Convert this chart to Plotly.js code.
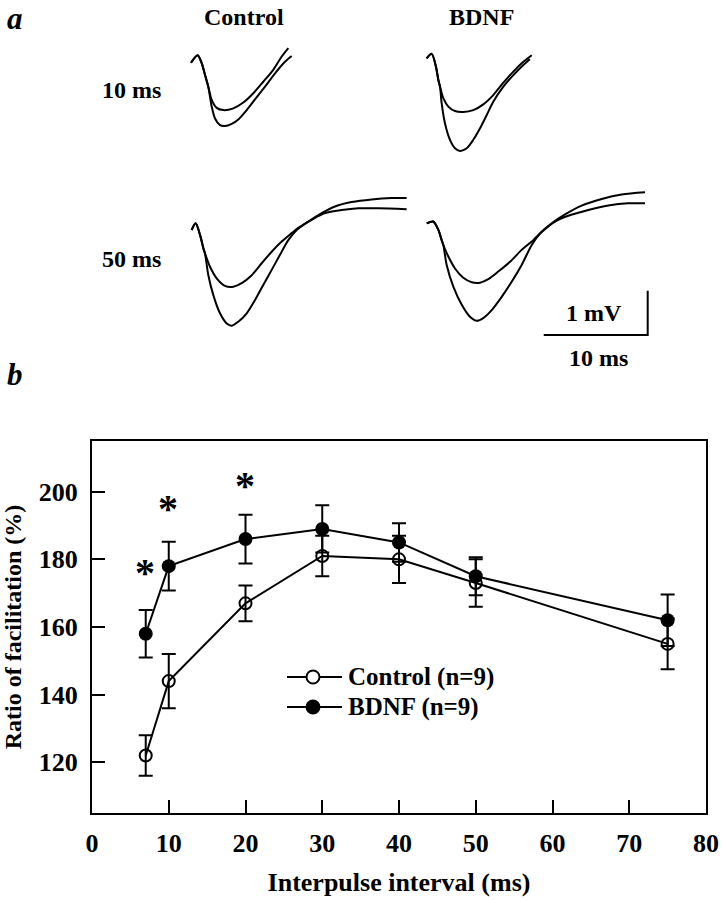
<!DOCTYPE html>
<html>
<head>
<meta charset="utf-8">
<script src="https://cdn.plot.ly/plotly-3.0.1.min.js"></script>
<style>html,body{margin:0;padding:0;background:#fff}#chart{width:722px;height:900px}</style>
</head>
<body>
<div id="chart"></div>
<script>
// ---------------- DATA ----------------
// Panel b: paired-pulse facilitation
const intervals = [7, 10, 20, 30, 40, 50, 75];
const control = [122, 144, 167, 181, 180, 173, 155];
const controlErr = [6, 8, 5.3, 6, 7, 7, 7.5];
const bdnf = [158, 178, 186, 189, 185, 175, 162];
const bdnfErr = [7, 7.2, 7.2, 7, 5.7, 5.6, 7.6];
const significant = [7, 10, 20];
const seriesNames = ['Control (n=9)', 'BDNF (n=9)'];
const xTicks = [0, 10, 20, 30, 40, 50, 60, 70, 80];
const yTicks = [120, 140, 160, 180, 200];

// Panel a: example traces (time in ms, voltage in mV)
const ctrl10_t1 = [0, 0.64, 1.03, 1.35, 1.66, 1.99, 2.47, 3.11, 4.07, 5.03, 5.99, 6.95, 7.91, 8.72, 9.36];
const ctrl10_v1 = [0, 0.17, -0.01, -0.28, -0.54, -0.84, -1.02, -1.07, -1.03, -0.90, -0.69, -0.43, -0.16, 0.14, 0.33];
const ctrl10_t2 = [0, 0.64, 1.03, 1.35, 1.66, 1.99, 2.31, 2.79, 3.27, 3.91, 4.55, 5.36, 6.15, 7.12, 8.08, 9.04, 9.68];
const ctrl10_v2 = [0, 0.17, -0.01, -0.28, -0.54, -0.99, -1.26, -1.41, -1.43, -1.38, -1.28, -1.07, -0.83, -0.54, -0.24, 0.02, 0.15];

const bdnf10_t1 = [0, 0.48, 0.89, 1.12, 1.28, 1.60, 2.08, 2.72, 3.52, 4.48, 5.44, 6.40, 7.37, 8.33, 9.29, 10.10];
const bdnf10_v1 = [0, 0.10, -0.19, -0.49, -0.64, -0.90, -1.09, -1.19, -1.21, -1.17, -1.04, -0.83, -0.55, -0.30, -0.08, 0.07];
const bdnf10_t2 = [0, 0.48, 0.89, 1.12, 1.28, 1.44, 1.76, 2.24, 2.72, 3.20, 3.85, 4.48, 5.13, 5.77, 6.40, 7.37, 8.33, 9.29, 9.93];
const bdnf10_v2 = [0, 0.10, -0.19, -0.49, -0.64, -1.02, -1.47, -1.84, -2.03, -2.09, -2.03, -1.84, -1.58, -1.28, -0.98, -0.64, -0.38, -0.15, -0.02];

const ctrl50_t1 = [0, 0.38, 0.80, 1.12, 1.28, 1.76, 2.40, 3.20, 4.00, 4.81, 5.77, 6.73, 7.69, 8.65, 9.62, 10.25, 11.54, 12.82, 14.42, 16.02, 17.94, 20.67];
const ctrl50_v1 = [0, 0.15, -0.11, -0.41, -0.53, -0.83, -1.09, -1.26, -1.28, -1.20, -1.02, -0.75, -0.49, -0.26, -0.07, 0.05, 0.23, 0.38, 0.45, 0.49, 0.49, 0.47];
const ctrl50_t2 = [0, 0.38, 0.80, 1.12, 1.28, 1.60, 2.08, 2.72, 3.37, 3.85, 4.48, 5.29, 6.09, 6.88, 7.69, 8.49, 9.29, 10.10, 11.21, 12.50, 13.78, 15.38, 17.31, 19.23, 20.67];
const ctrl50_v2 = [0, 0.15, -0.11, -0.41, -0.53, -1.02, -1.47, -1.88, -2.11, -2.16, -2.07, -1.88, -1.58, -1.24, -0.90, -0.56, -0.23, 0.00, 0.19, 0.38, 0.53, 0.63, 0.69, 0.72, 0.72];

const bdnf50_t1 = [0, 0.63, 1.12, 1.44, 1.60, 2.08, 2.72, 3.52, 4.33, 5.13, 5.92, 6.88, 8.01, 9.13, 10.25, 10.89, 12.34, 13.62, 15.54, 17.46, 19.38, 20.99];
const bdnf50_v1 = [0, 0.04, -0.15, -0.38, -0.49, -0.75, -1.02, -1.23, -1.33, -1.34, -1.26, -1.09, -0.87, -0.60, -0.38, -0.23, 0.04, 0.17, 0.30, 0.40, 0.45, 0.45];
const bdnf50_t2 = [0, 0.63, 1.12, 1.44, 1.60, 1.92, 2.56, 3.37, 4.16, 4.81, 5.44, 6.25, 7.21, 8.17, 9.13, 10.10, 10.89, 12.02, 13.30, 14.90, 16.83, 18.75, 20.99];
const bdnf50_v2 = [0, 0.04, -0.15, -0.38, -0.49, -0.94, -1.43, -1.84, -2.11, -2.20, -2.14, -1.96, -1.66, -1.32, -0.94, -0.49, -0.23, 0.00, 0.20, 0.40, 0.55, 0.65, 0.70];

const scaleMs = 10;
const scaleMv = 1;
const panelLabels = ['Control', 'BDNF'];
const rowLabels = ['10 ms', '50 ms'];

// ---------------- LAYOUT HELPERS ----------------
const W = 722, H = 900;
const PX_PER_MS = 10.4, PX_PER_MV = 44.3;
const FONT = 'Liberation Serif, Times New Roman, serif';
const bold = (size) => ({family: FONT, size: size, color: '#000', weight: 'bold'});
const px = (x) => x / W;
const py = (y) => 1 - y / H;

function panelAxes(box, origin) {
  const [x0, x1, y0, y1] = box;
  const [ox, oy] = origin;
  const common = {visible: false, showgrid: false, zeroline: false, fixedrange: true};
  return {
    x: Object.assign({}, common, {domain: [px(x0), px(x1)], range: [(x0 - ox) / PX_PER_MS, (x1 - ox) / PX_PER_MS]}),
    y: Object.assign({}, common, {domain: [py(y1), py(y0)], range: [-(y1 - oy) / PX_PER_MV, -(y0 - oy) / PX_PER_MV]})
  };
}

const panels = [
  panelAxes([180, 300, 40, 140], [191, 62.7]),
  panelAxes([415, 540, 40, 165], [426.7, 58.3]),
  panelAxes([180, 420, 185, 340], [191.7, 230]),
  panelAxes([415, 660, 180, 345], [426.7, 223.3])
];

const traceLine = {color: '#000', width: 2, shape: 'spline', smoothing: 0.8};
function sweep(t, v, k) {
  return {x: t, y: v, type: 'scatter', mode: 'lines', line: traceLine,
          xaxis: 'x' + (k + 2), yaxis: 'y' + (k + 2), hoverinfo: 'skip', showlegend: false};
}

const data = [
  {x: intervals, y: control, name: seriesNames[0], type: 'scatter', mode: 'lines+markers',
   line: {color: '#000', width: 2},
   marker: {symbol: 'circle-open', size: 12, color: '#000', line: {width: 2, color: '#000'}},
   error_y: {type: 'data', array: controlErr, visible: true, color: '#000', thickness: 2, width: 7},
   showlegend: false},
  {x: intervals, y: bdnf, name: seriesNames[1], type: 'scatter', mode: 'lines+markers',
   line: {color: '#000', width: 2},
   marker: {symbol: 'circle', size: 14, color: '#000'},
   error_y: {type: 'data', array: bdnfErr, visible: true, color: '#000', thickness: 2, width: 7},
   showlegend: false},
  sweep(ctrl10_t1, ctrl10_v1, 0), sweep(ctrl10_t2, ctrl10_v2, 0),
  sweep(bdnf10_t1, bdnf10_v1, 1), sweep(bdnf10_t2, bdnf10_v2, 1),
  sweep(ctrl50_t1, ctrl50_v1, 2), sweep(ctrl50_t2, ctrl50_v2, 2),
  sweep(bdnf50_t1, bdnf50_v1, 3), sweep(bdnf50_t2, bdnf50_v2, 3)
];

// scale bar in the last panel's units
const sbX = 11.25, sbY = -2.52;
data.push({x: [sbX, sbX + scaleMs, sbX + scaleMs], y: [sbY, sbY, sbY + scaleMv],
  type: 'scatter', mode: 'lines', line: {color: '#000', width: 2}, xaxis: 'x5', yaxis: 'y5',
  hoverinfo: 'skip', showlegend: false});

const annotations = [];
function label(text, x, y, font, extra) {
  annotations.push(Object.assign({text: text, x: px(x), y: py(y), xref: 'paper', yref: 'paper',
    showarrow: false, xanchor: 'center', yanchor: 'middle', font: font}, extra || {}));
}
label('a', 15, 18, Object.assign(bold(31), {style: 'italic'}));
label('b', 15, 374, Object.assign(bold(31), {style: 'italic'}));
label(panelLabels[0], 244, 17, bold(24));
label(panelLabels[1], 481, 17, bold(24));
label(rowLabels[0], 131, 90, bold(24));
label(rowLabels[1], 131, 259, bold(24));
label(scaleMv + ' mV', 594, 313, bold(24));
label(scaleMs + ' ms', 598, 358, bold(24));
// legend text
label(seriesNames[0], 346, 677, bold(25), {xanchor: 'left'});
label(seriesNames[1], 346, 707, bold(25), {xanchor: 'left'});

// significance asterisks
const starY = [178, 196.8, 203.7];
significant.forEach((s, i) => {
  annotations.push({text: '*', x: s, y: starY[i], xref: 'x', yref: 'y', showarrow: false,
    xanchor: 'center', yanchor: 'middle', yshift: -6, xshift: -1, font: bold(40)});
});

// manual legend symbols
const shapes = [];
[677, 707].forEach((yy, i) => {
  shapes.push({type: 'line', xref: 'paper', yref: 'paper', x0: px(287), x1: px(342), y0: py(yy), y1: py(yy),
    line: {color: '#000', width: 2}});
  shapes.push({type: 'circle', xref: 'paper', yref: 'paper', xsizemode: 'pixel', ysizemode: 'pixel',
    xanchor: px(313), yanchor: py(yy), x0: -6.5, x1: 6.5, y0: -6.5, y1: 6.5,
    line: {color: '#000', width: 2}, fillcolor: i === 0 ? '#fff' : '#000'});
});

const layout = {
  width: W, height: H,
  margin: {l: 0, r: 0, t: 0, b: 0, pad: 0},
  paper_bgcolor: '#fff', plot_bgcolor: 'rgba(0,0,0,0)',
  showlegend: false,
  xaxis: {domain: [px(92), px(706)], range: [0, 80], tickvals: xTicks, ticks: 'inside', ticklen: 13,
    tickwidth: 2, tickcolor: '#000', showline: true, linewidth: 2, linecolor: '#000', mirror: true,
    showgrid: false, zeroline: false, tickfont: bold(26), ticklabelstandoff: 6, fixedrange: true,
    title: {text: 'Interpulse interval (ms)', font: bold(26), standoff: 16}},
  yaxis: {domain: [py(813), py(441)], range: [105, 215], tickvals: yTicks, ticks: 'inside', ticklen: 13,
    tickwidth: 2, tickcolor: '#000', showline: true, linewidth: 2, linecolor: '#000', mirror: true,
    showgrid: false, zeroline: false, tickfont: bold(26), ticklabelstandoff: 7, fixedrange: true,
    title: {text: 'Ratio of facilitation (%)', font: bold(24), standoff: 11}},
  annotations: annotations,
  shapes: shapes
};
panels.forEach((p, k) => {
  layout['xaxis' + (k + 2)] = Object.assign(p.x, {anchor: 'y' + (k + 2)});
  layout['yaxis' + (k + 2)] = Object.assign(p.y, {anchor: 'x' + (k + 2)});
});

Plotly.newPlot('chart', data, layout, {displayModeBar: false, staticPlot: true});
</script>
</body>
</html>
